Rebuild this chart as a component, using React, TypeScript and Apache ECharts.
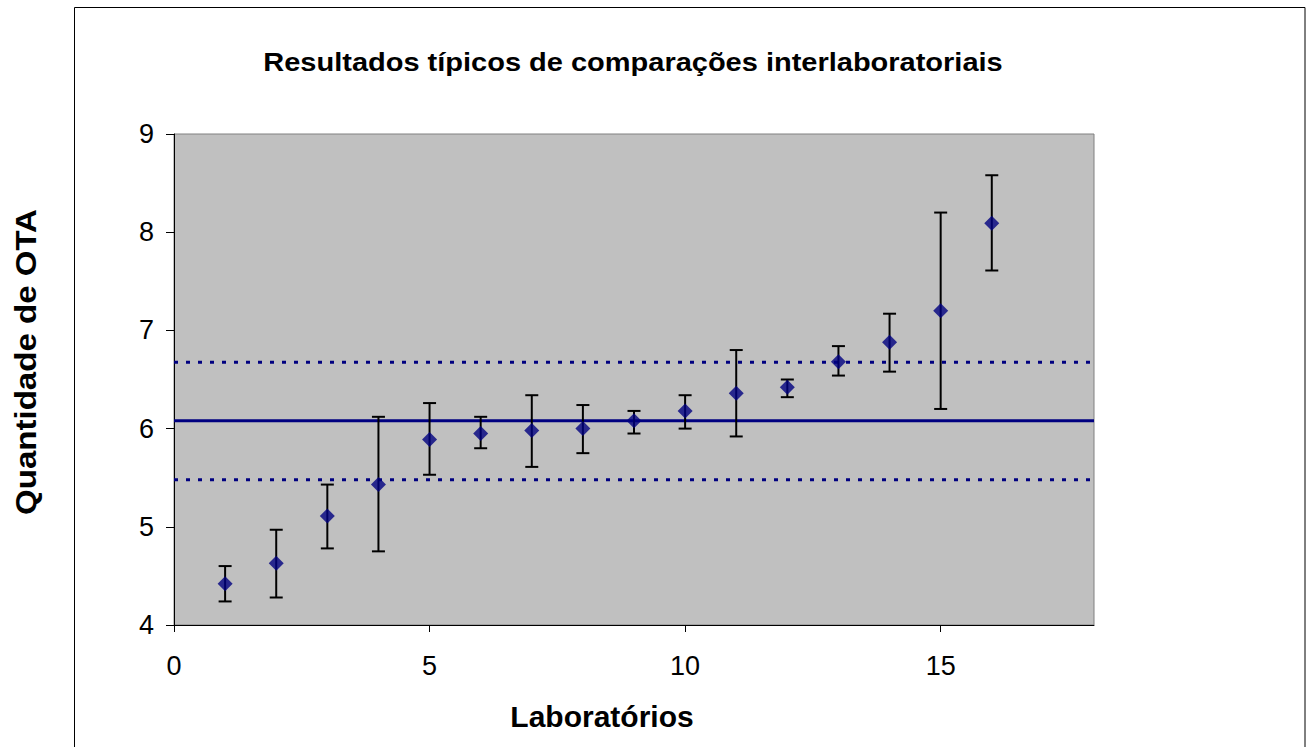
import React, { useEffect, useRef } from "react";
import * as echarts from "echarts";

// ---- data ----
const labs = [1, 2, 3, 4, 5, 6, 7, 8, 9, 10, 11, 12, 13, 14, 15, 16];
const means = [4.42, 4.63, 5.11, 5.43, 5.89, 5.95, 5.98, 6.0, 6.08, 6.18, 6.36, 6.42, 6.68, 6.88, 7.2, 8.09];
const upper = [4.6, 4.97, 5.43, 6.12, 6.26, 6.12, 6.34, 6.24, 6.18, 6.34, 6.8, 6.5, 6.84, 7.17, 8.2, 8.58];
const lower = [4.24, 4.28, 4.78, 4.75, 5.53, 5.8, 5.61, 5.75, 5.95, 6.0, 5.92, 6.32, 6.54, 6.58, 6.2, 7.61];
const assignedValue = 6.08;
const upperLimit = 6.675;
const lowerLimit = 5.48;
const xRange = [0, 18];
const yRange = [4, 9];
const xTicks = [0, 5, 10, 15];
const yTicks = [4, 5, 6, 7, 8, 9];

const titleText = "Resultados típicos de comparações interlaboratoriais";
const xName = "Laboratórios";
const yName = "Quantidade de OTA";

const FONT = "'Liberation Sans', Arial, sans-serif";

export default function App() {
  const ref = useRef<HTMLDivElement>(null);

  useEffect(() => {
    if (!ref.current) return;
    const chart = echarts.init(ref.current, null, { renderer: "svg" });

    const points = labs.map((x, i) => [x, means[i]]);
    const bars = labs.map((x, i) => [x, lower[i], upper[i]]);
    const hLine = (v: number) => [
      [xRange[0], v],
      [xRange[1], v],
    ];

    const option: any = {
      animation: false,
      backgroundColor: "#ffffff",
      textStyle: { fontFamily: FONT },
      grid: {
        left: 174,
        top: 134,
        width: 920,
        height: 491,
        show: true,
        backgroundColor: "#c0c0c0",
        borderColor: "#808080",
        borderWidth: 1,
        containLabel: false,
        outerBoundsMode: "none",
      },
      xAxis: {
        type: "value",
        min: xRange[0],
        max: xRange[1],
        interval: 5,
        splitLine: { show: false },
        axisLine: { show: true, lineStyle: { color: "#000", width: 1 } },
        axisTick: {
          show: true,
          inside: false,
          length: 7,
          lineStyle: { color: "#000", width: 1 },
          customValues: xTicks,
        },
        axisLabel: {
          show: true,
          fontSize: 27,
          color: "#000",
          fontFamily: FONT,
          margin: 27,
          customValues: xTicks,
        },
      },
      yAxis: {
        type: "value",
        min: yRange[0],
        max: yRange[1],
        interval: 1,
        splitLine: { show: false },
        axisLine: { show: true, lineStyle: { color: "#000", width: 1 } },
        axisTick: {
          show: true,
          inside: false,
          length: 8,
          lineStyle: { color: "#000", width: 1 },
          customValues: yTicks,
        },
        axisLabel: {
          show: true,
          fontSize: 27,
          color: "#000",
          fontFamily: FONT,
          margin: 20,
          customValues: yTicks,
        },
      },
      graphic: [
        {
          type: "rect",
          shape: { x: 74.5, y: 7.5, width: 1230.5, height: 800 },
          style: { fill: "none", stroke: "#000", lineWidth: 1 },
          silent: true,
          z: -10,
        },
        {
          type: "text",
          x: 633,
          y: 62,
          scaleX: 1.16,
          style: {
            text: titleText,
            font: `bold 25px ${FONT}`,
            fill: "#000",
            textAlign: "center",
            textVerticalAlign: "middle",
          },
        },
        {
          type: "text",
          x: 602,
          y: 716,
          style: {
            text: xName,
            font: `bold 30px ${FONT}`,
            fill: "#000",
            textAlign: "center",
            textVerticalAlign: "middle",
          },
        },
        {
          type: "text",
          x: 26,
          y: 362,
          rotation: Math.PI / 2,
          scaleX: 1.14,
          style: {
            text: yName,
            font: `bold 29px ${FONT}`,
            fill: "#000",
            textAlign: "center",
            textVerticalAlign: "middle",
          },
        },
      ],
      series: [
        {
          type: "line",
          data: hLine(upperLimit),
          showSymbol: false,
          symbol: "none",
          lineStyle: { color: "#000080", width: 3, type: [4, 8] },
          z: 2,
        },
        {
          type: "line",
          data: hLine(lowerLimit),
          showSymbol: false,
          symbol: "none",
          lineStyle: { color: "#000080", width: 3, type: [4, 8] },
          z: 2,
        },
        {
          type: "line",
          data: hLine(assignedValue),
          showSymbol: false,
          symbol: "none",
          lineStyle: { color: "#000080", width: 3 },
          z: 2,
        },
        {
          type: "custom",
          data: bars,
          encode: { x: 0, y: [1, 2] },
          z: 3,
          renderItem: (params: any, api: any) => {
            const x = api.value(0);
            const lo = api.coord([x, api.value(1)]);
            const hi = api.coord([x, api.value(2)]);
            const half = 6.5;
            const style = { stroke: "#000", lineWidth: 2 };
            return {
              type: "group",
              children: [
                { type: "line", shape: { x1: lo[0], y1: lo[1], x2: hi[0], y2: hi[1] }, style },
                { type: "line", shape: { x1: lo[0] - half, y1: lo[1], x2: lo[0] + half, y2: lo[1] }, style },
                { type: "line", shape: { x1: hi[0] - half, y1: hi[1], x2: hi[0] + half, y2: hi[1] }, style },
              ],
            };
          },
        },
        {
          type: "scatter",
          data: points,
          symbol: "diamond",
          symbolSize: 15,
          itemStyle: { color: "#000080" },
          z: 4,
        },
      ],
    };

    chart.setOption(option);
    return () => chart.dispose();
  }, []);

  return (
    <div
      ref={ref}
      style={{ position: "absolute", left: 0, top: 0, width: 1306, height: 747 }}
    />
  );
}
